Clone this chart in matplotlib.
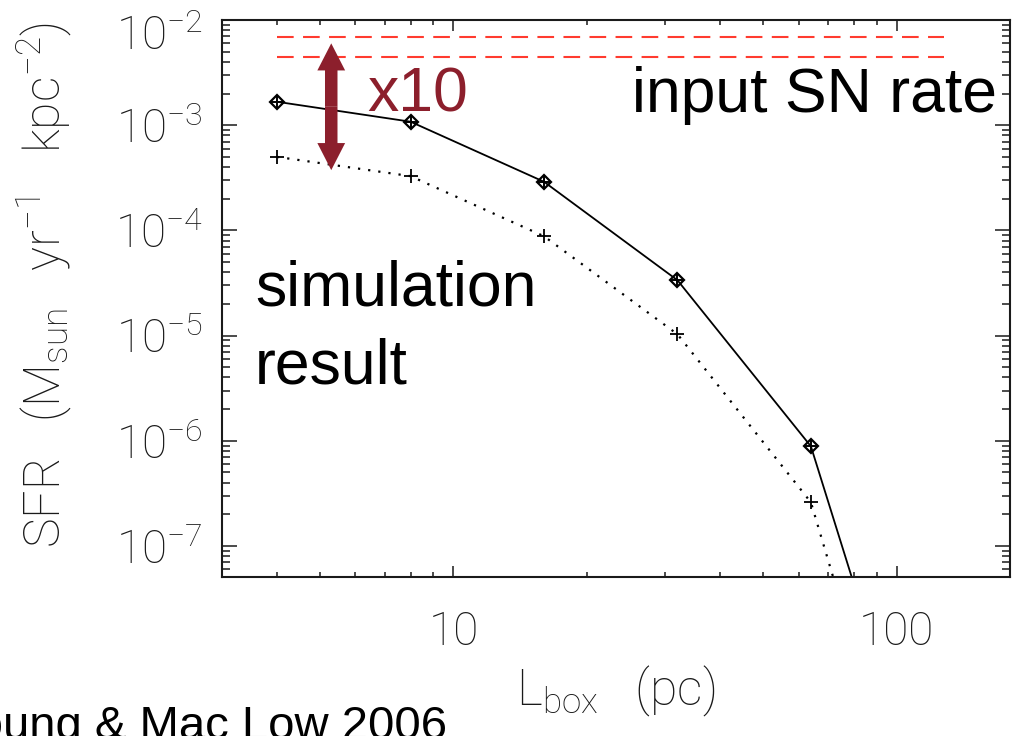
import math
import matplotlib
matplotlib.use('Agg')
import matplotlib.pyplot as plt
import matplotlib.transforms as mtransforms
from matplotlib.patches import FancyArrowPatch
from matplotlib.ticker import FuncFormatter, LogLocator, NullFormatter

# box size (pc) and star formation rate (Msun / yr / kpc^2)
L_box = [4, 8, 16, 32, 64, 128]
sfr_all = [1.67e-3, 1.08e-3, 2.9e-4, 3.36e-5, 8.85e-7, 7.6e-11]
sfr_low = [5.0e-4, 3.28e-4, 8.8e-5, 1.03e-5, 2.6e-7, 1.4e-11]

# input supernova rate converted to SFR
sn_L = [4, 128]
sn_sfr = [6.9e-3, 4.48e-3]

# the factor-of-ten arrow
arrow_L = 5.3
arrow_lo, arrow_hi = 3.74e-4, 6.0e-3

thin = dict(family='Roboto', weight='light')
big = dict(family='Liberation Sans')
dark_red = '#8c1f2c'
red = '#ff3b2f'
frame = '#1a1a1a'

fig = plt.figure(figsize=(10.14, 7.36), dpi=100)
ax = fig.add_axes([0.2186, 0.216, 0.7775, 0.7568])

ax.set_xscale('log')
ax.set_yscale('log')
ax.set_xlim(3, 180)
ax.set_ylim(5.07e-8, 1e-2)

for y in sn_sfr:
    ax.plot(sn_L, [y, y], color=red, lw=1.5, dashes=(8, 4.5))

ax.plot(L_box, sfr_all, color='black', lw=1.3,
        marker='D', ms=7.0, mfc='none', mec='black', mew=1.6)
ax.plot(L_box, sfr_all, ls='none', marker='+', ms=9.6, mec='black', mew=1.4)
ax.plot(L_box, sfr_low, color='black', lw=1.6, ls=(0, (1, 3.6)),
        marker='+', ms=9.6, mec='black', mew=1.3)

# double-headed arrow built from two halves meeting in the middle
mid = (arrow_lo * arrow_hi) ** 0.5
for end in (arrow_hi, arrow_lo):
    ax.add_patch(FancyArrowPatch(
        (arrow_L, mid), (arrow_L, end),
        arrowstyle='simple,head_width=20,head_length=19.5,tail_width=9',
        mutation_scale=1, color=dark_red, lw=0, shrinkA=0, shrinkB=0,
        zorder=5))

ax.text(0.1843, 0.835, 'x10', transform=ax.transAxes, fontsize=45,
        color=dark_red, va='baseline', ha='left', **big)
ax.text(0.9835, 0.835, 'input SN rate', transform=ax.transAxes,
        fontsize=45, va='baseline', ha='right', **big)
ax.text(0.0422, 0.4883, 'simulation', transform=ax.transAxes,
        fontsize=45, va='baseline', ha='left', **big)
ax.text(0.0422, 0.3483, 'result', transform=ax.transAxes,
        fontsize=45, va='baseline', ha='left', **big)

fig.text(-0.046, -0.004, 'Joung & Mac Low 2006', fontsize=34,
         va='baseline', ha='left', **big)

# IDL-like frame: ticks inside on all four sides
for s in ax.spines.values():
    s.set_linewidth(1.5)
    s.set_color(frame)
ax.tick_params(which='both', direction='in', top=True, right=True,
               color=frame, width=1.1)
ax.tick_params(axis='y', which='major', length=10.8, pad=13.7)
ax.tick_params(axis='y', which='minor', length=5.6)
ax.tick_params(axis='x', which='major', length=7.6, pad=24)
ax.tick_params(axis='x', which='minor', length=3.6)

ax.xaxis.set_major_locator(LogLocator(base=10))
ax.xaxis.set_minor_locator(LogLocator(base=10, subs=range(2, 10)))
ax.xaxis.set_major_formatter(FuncFormatter(lambda v, p: '%d' % round(v)))
ax.xaxis.set_minor_formatter(NullFormatter())
ax.yaxis.set_major_locator(LogLocator(base=10, numticks=12))
ax.yaxis.set_minor_locator(LogLocator(base=10, subs=range(2, 10), numticks=12))
ax.yaxis.set_major_formatter(
    FuncFormatter(lambda v, p: r'$\mathregular{10^{%d}}$' % round(math.log10(v))))
ax.yaxis.set_minor_formatter(NullFormatter())

for lab in ax.get_xticklabels() + ax.get_yticklabels():
    lab.set_fontsize(33)
    lab.set_fontfamily('Roboto')
    lab.set_fontweight('light')
    lab.set_color(frame)

ax.set_xlabel(r'L$_{\mathregular{box}}$   (pc)', fontsize=36, labelpad=7,
              color=frame, **thin)
ax.set_ylabel(r'SFR   (M$_{\mathregular{sun}}$   yr$^{\mathregular{-1}}$   kpc$^{\mathregular{-2}}$)',
              fontsize=36, labelpad=29, color=frame, **thin)
ax.yaxis.label.set_y(0.525)

# the label at the top corner sits a little below its tick
fig.canvas.draw()
for tick in ax.yaxis.get_major_ticks():
    if abs(math.log10(tick.get_loc()) + 2) < 1e-6:
        tick.label1.set_transform(
            tick.label1.get_transform()
            + mtransforms.ScaledTranslation(0, -0.12, fig.dpi_scale_trans))

fig.savefig('out.png', dpi=100, facecolor='white')
